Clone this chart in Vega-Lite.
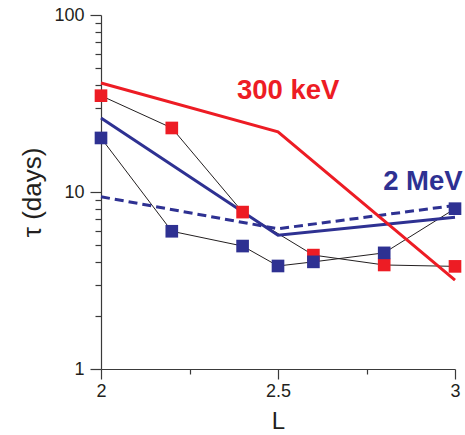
{
  "$schema": "https://vega.github.io/schema/vega-lite/v6.json",
  "width": 354,
  "height": 354,
  "autosize": "none",
  "padding": {"left": 101, "top": 15, "right": 10, "bottom": 66},
  "background": "white",
  "config": {
    "view": {"stroke": null},
    "font": "Liberation Sans",
    "axis": {
      "grid": false,
      "domainColor": "#3a3a3a",
      "tickColor": "#3a3a3a",
      "domainWidth": 1.2,
      "tickWidth": 1.2,
      "labelColor": "#231F20",
      "titleColor": "#231F20",
      "labelFont": "Liberation Sans",
      "titleFont": "Liberation Sans",
      "labelFontSize": 18,
      "titleFontSize": 24,
      "titleFontWeight": "normal",
      "labelOverlap": false,
      "labelFlush": false
    }
  },
  "datasets": {
    "pts": [
      {"series": "300 keV", "L": 2.0, "tau": 35},
      {"series": "300 keV", "L": 2.2, "tau": 23},
      {"series": "300 keV", "L": 2.4, "tau": 7.7},
      {"series": "300 keV", "L": 2.6, "tau": 4.4},
      {"series": "300 keV", "L": 2.8, "tau": 3.87},
      {"series": "300 keV", "L": 3.0, "tau": 3.8},
      {"series": "2 MeV", "L": 2.0, "tau": 20.2},
      {"series": "2 MeV", "L": 2.2, "tau": 6.0},
      {"series": "2 MeV", "L": 2.4, "tau": 4.95},
      {"series": "2 MeV", "L": 2.5, "tau": 3.82},
      {"series": "2 MeV", "L": 2.6, "tau": 4.03},
      {"series": "2 MeV", "L": 2.8, "tau": 4.53},
      {"series": "2 MeV", "L": 3.0, "tau": 8.05}
    ],
    "models": [
      {"model": "300 keV", "L": 2.0, "tau": 41.3},
      {"model": "300 keV", "L": 2.5, "tau": 21.9},
      {"model": "300 keV", "L": 3.0, "tau": 3.18},
      {"model": "2 MeV solid", "L": 2.0, "tau": 26.2},
      {"model": "2 MeV solid", "L": 2.5, "tau": 5.7},
      {"model": "2 MeV solid", "L": 3.0, "tau": 7.2},
      {"model": "2 MeV dashed", "L": 2.0, "tau": 9.4},
      {"model": "2 MeV dashed", "L": 2.5, "tau": 6.2},
      {"model": "2 MeV dashed", "L": 3.0, "tau": 8.4}
    ],
    "labels": [
      {"text": "300 keV", "series": "300 keV", "L": 2.384, "tau": 33.5},
      {"text": "2 MeV", "series": "2 MeV", "L": 2.797, "tau": 10.26}
    ]
  },
  "encoding": {
    "x": {
      "field": "L",
      "type": "quantitative",
      "scale": {"domain": [2, 3], "nice": false, "zero": false},
      "axis": {
        "title": "L",
        "values": [2, 2.25, 2.5, 2.75, 3],
        "format": "~g",
        "labelExpr": "(datum.value == 2.25 || datum.value == 2.75) ? '' : datum.label",
        "tickSize": {"condition": {"test": "datum.value == 2.25 || datum.value == 2.75", "value": 5}, "value": 10},
        "labelPadding": 3,
        "titlePadding": 9
      }
    },
    "y": {
      "field": "tau",
      "type": "quantitative",
      "scale": {"type": "log", "domain": [1, 100], "nice": false},
      "axis": {
        "title": "τ (days)",
        "titleFontSize": 26,
        "values": [1, 2, 3, 4, 5, 6, 7, 8, 9, 10, 20, 30, 40, 50, 60, 70, 80, 90, 100],
        "format": "~g",
        "labelExpr": "(datum.value == 1 || datum.value == 10 || datum.value == 100) ? datum.label : ''",
        "tickSize": {"condition": {"test": "datum.value == 1 || datum.value == 10 || datum.value == 100", "value": 11}, "value": 6},
        "labelPadding": 6,
        "titlePadding": 8
      }
    }
  },
  "layer": [
    {
      "data": {"name": "pts"},
      "mark": {"type": "line", "color": "#231F20", "strokeWidth": 1},
      "encoding": {"detail": {"field": "series"}, "order": {"field": "L"}}
    },
    {
      "data": {"name": "models"},
      "transform": [{"filter": "datum.model == '2 MeV dashed'"}],
      "mark": {"type": "line", "color": "#2E3192", "strokeWidth": 3, "strokeDash": [9, 5]},
      "encoding": {"order": {"field": "L"}}
    },
    {
      "data": {"name": "models"},
      "transform": [{"filter": "datum.model == '2 MeV solid'"}],
      "mark": {"type": "line", "color": "#2E3192", "strokeWidth": 3},
      "encoding": {"order": {"field": "L"}}
    },
    {
      "data": {"name": "models"},
      "transform": [{"filter": "datum.model == '300 keV'"}],
      "mark": {"type": "line", "color": "#ED1C24", "strokeWidth": 3},
      "encoding": {"order": {"field": "L"}}
    },
    {
      "data": {"name": "pts"},
      "transform": [{"filter": "datum.series == '300 keV'"}],
      "mark": {"type": "square", "filled": true, "color": "#ED1C24", "size": 160, "opacity": 1}
    },
    {
      "data": {"name": "pts"},
      "transform": [{"filter": "datum.series == '2 MeV'"}],
      "mark": {"type": "square", "filled": true, "color": "#2E3192", "size": 160, "opacity": 1}
    },
    {
      "data": {"name": "labels"},
      "mark": {"type": "text", "align": "left", "baseline": "alphabetic", "fontSize": 27.5, "fontWeight": "bold", "font": "Liberation Sans"},
      "encoding": {
        "text": {"field": "text"},
        "color": {"condition": {"test": "datum.series == '300 keV'", "value": "#ED1C24"}, "value": "#2E3192"}
      }
    }
  ]
}
